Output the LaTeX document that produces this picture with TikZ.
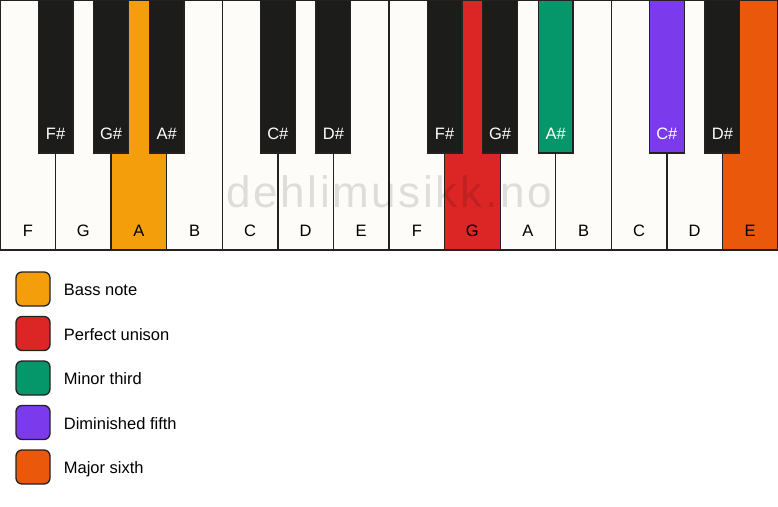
\documentclass[tikz,border=0pt]{standalone}
\usepackage{fontspec}
\setmainfont{Liberation Sans}
\newfontfamily\markfont[LetterSpace=6]{Liberation Sans}
\usetikzlibrary{positioning}
\definecolor{keyline}{HTML}{222222}
\definecolor{ivory}{HTML}{FDFCF8}
\definecolor{keyblack}{HTML}{1C1C1A}
\definecolor{bassc}{HTML}{F59E0B}
\definecolor{unisonc}{HTML}{DC2626}
\definecolor{thirdc}{HTML}{059669}
\definecolor{fifthc}{HTML}{7C3AED}
\definecolor{sixthc}{HTML}{EA580C}
\begin{document}
\begin{tikzpicture}[
  x=1pt, y=-1pt, font=\fontsize{16.5}{19}\selectfont,
  whitekey/.style={rectangle, minimum width=55.57pt, text height=236pt, text depth=14pt, inner sep=0pt, draw=keyline, line width=1.3pt, fill=ivory},
  blackkey/.style={rectangle, minimum width=34.6pt, text height=139pt, text depth=14pt, inner sep=0pt, draw=keyline, line width=1.3pt, fill=keyblack, text=white},
  legendbox/.style={rectangle, minimum size=34pt, inner sep=0pt, draw=keyline, line width=1.3pt, rounded corners=6pt},
  legendtext/.style={inner sep=0pt, text height=13.5pt, text depth=0pt}
]
\useasboundingbox[fill=white] (0,0) rectangle (778,506);

% white keys
\node[whitekey] (w0) at (27.79,125) {F};
\node[whitekey] (w1) at (83.36,125) {G};
\node[whitekey, fill=bassc] (w2) at (138.93,125) {A};
\node[whitekey] (w3) at (194.50,125) {B};
\node[whitekey] (w4) at (250.07,125) {C};
\node[whitekey] (w5) at (305.64,125) {D};
\node[whitekey] (w6) at (361.21,125) {E};
\node[whitekey] (w7) at (416.79,125) {F};
\node[whitekey, fill=unisonc] (w8) at (472.36,125) {G};
\node[whitekey] (w9) at (527.93,125) {A};
\node[whitekey] (w10) at (583.50,125) {B};
\node[whitekey] (w11) at (639.07,125) {C};
\node[whitekey] (w12) at (694.64,125) {D};
\node[whitekey, fill=sixthc] (w13) at (750.21,125) {E};

\node[text=black, text opacity=0.12, font=\markfont\fontsize{44}{44}\selectfont] (mark) at (389,192) {dehlimusikk.no};

% black keys
\node[blackkey] (b1) at (55.57,76.5) {F\#};
\node[blackkey] (b2) at (111.14,76.5) {G\#};
\node[blackkey] (b3) at (166.71,76.5) {A\#};
\node[blackkey] (b5) at (277.86,76.5) {C\#};
\node[blackkey] (b6) at (333.43,76.5) {D\#};
\node[blackkey] (b8) at (444.57,76.5) {F\#};
\node[blackkey] (b9) at (500.14,76.5) {G\#};
\node[blackkey, fill=thirdc] (b10) at (555.71,76.5) {A\#};
\node[blackkey, fill=fifthc] (b12) at (666.86,76.5) {C\#};
\node[blackkey] (b13) at (722.43,76.5) {D\#};

% legend
\node[legendbox, fill=bassc] (lbass) at (33,289) {};
\node[legendbox, fill=unisonc, below=9.2pt of lbass] (lunison) {};
\node[legendbox, fill=thirdc, below=9.2pt of lunison] (lthird) {};
\node[legendbox, fill=fifthc, below=9.2pt of lthird] (lfifth) {};
\node[legendbox, fill=sixthc, below=9.2pt of lfifth] (lsixth) {};
\node[legendtext, right=13pt of lbass] (tbass) {Bass note};
\node[legendtext, right=13pt of lunison] (tunison) {Perfect unison};
\node[legendtext, right=13pt of lthird] (tthird) {Minor third};
\node[legendtext, right=13pt of lfifth] (tfifth) {Diminished fifth};
\node[legendtext, right=13pt of lsixth] (tsixth) {Major sixth};
\end{tikzpicture}
\end{document}
